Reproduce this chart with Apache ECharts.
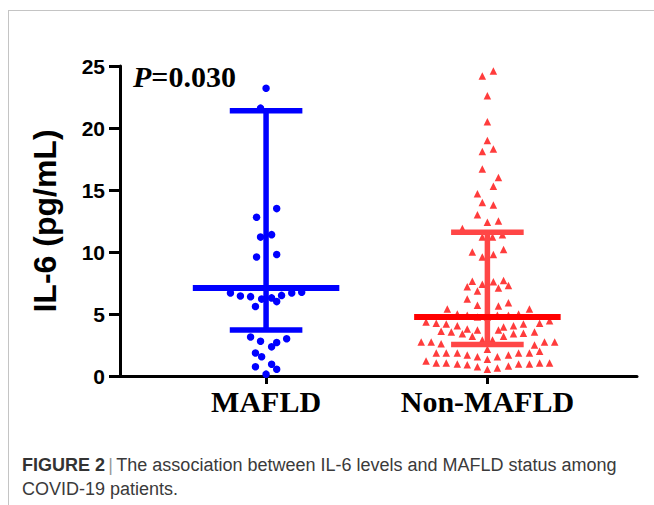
<!DOCTYPE html>
<html>
<head>
<meta charset="utf-8">
<style>
  html, body { margin: 0; padding: 0; background: #ffffff; }
  #chart { width: 654px; height: 505px; }
</style>
<script src="https://cdn.jsdelivr.net/npm/echarts@6.0.0/dist/echarts.min.js"></script>
</head>
<body>
<div id="chart"></div>
<script>
// ---- data ----
const categories = ['MAFLD', 'Non-MAFLD'];
const yTicks = [0, 5, 10, 15, 20, 25];

// MAFLD: [horizontal jitter (axis units), IL-6 value]
const mafldPoints = [
  [0.000, 23.2], [-0.025, 21.6], [0.048, 13.5], [-0.043, 12.8], [-0.025, 11.2], [0.025, 11.4],
  [-0.043, 9.6], [0.048, 9.8], [-0.161, 6.7], [-0.116, 6.45], [-0.070, 6.4], [-0.020, 6.2],
  [0.025, 6.3], [0.048, 6.0], [0.070, 6.5], [0.116, 6.7], [0.161, 6.75], [-0.048, 5.6],
  [-0.070, 3.15], [-0.025, 2.8], [0.048, 2.7], [0.025, 2.35], [0.093, 3.0], [-0.048, 1.85],
  [-0.020, 1.55], [-0.048, 0.75], [0.025, 0.95], [0.048, 0.55], [0.000, 0.15]
];

// Non-MAFLD: [horizontal jitter (axis units), IL-6 value]
const nonMafldPoints = [
  [0.027, 24.6], [-0.023, 24.2], [0, 22.6], [0, 20.5], [0, 19.0], [-0.023, 18.1], [0.027, 18.3],
  [-0.023, 16.7], [0.05, 16.0], [0.027, 15.3], [-0.045, 14.7], [-0.023, 14.0], [0.027, 13.8],
  [-0.045, 13.0], [0, 12.4], [0.05, 12.5], [-0.113, 11.9], [-0.023, 11.2], [0.023, 11.2], [0.068, 11.4],
  [-0.068, 10.0], [-0.023, 9.6], [0.027, 9.8], [0.073, 10.2], [-0.068, 7.65], [-0.091, 7.2],
  [-0.045, 6.85], [-0.023, 7.4], [0.027, 7.6], [0.05, 7.1], [0.073, 7.7], [0.095, 7.3],
  [-0.091, 6.2], [-0.045, 5.7], [0.05, 5.65], [0.095, 5.9], [-0.181, 5.4], [0.19, 5.4],
  [-0.136, 5.0], [-0.091, 4.9], [-0.045, 4.75], [0, 4.75], [0.045, 4.9], [0.095, 4.9], [0.141, 5.0],
  [-0.277, 4.35], [-0.231, 4.25], [-0.186, 4.2], [-0.136, 4.05], [-0.091, 3.8], [-0.045, 3.7],
  [0.05, 3.7], [0.073, 3.95], [0.118, 4.05], [0.163, 4.2], [0.236, 4.25], [0.281, 4.45],
  [-0.209, 3.6], [-0.163, 3.55], [-0.113, 3.4], [-0.068, 3.2], [0.073, 3.2], [0.118, 3.4],
  [0.163, 3.45], [0.213, 3.55],
  [-0.299, 2.75], [-0.254, 2.75], [-0.209, 2.6], [0.213, 2.5], [0.258, 2.75], [0.304, 2.75],
  [-0.023, 2.9], [0.023, 2.9],
  [-0.231, 1.85], [-0.186, 1.85], [-0.136, 1.85], [-0.091, 1.7], [-0.045, 1.55], [0, 1.35],
  [0.045, 1.55], [0.095, 1.7], [0.141, 1.85], [0.19, 1.85], [0.236, 2.0], [0, 2.15],
  [-0.277, 1.2], [-0.231, 1.05], [-0.186, 1.05], [-0.136, 0.97], [-0.091, 0.9], [-0.045, 0.75],
  [0, 0.55], [0.045, 0.65], [0.095, 0.8], [0.141, 0.97], [0.19, 0.97], [0.236, 1.05], [0.281, 1.05]
];

// summary bars: [mean, lower, upper]
const mafldSummary = [7.1, 3.7, 21.4];
const nonMafldSummary = [4.75, 2.55, 11.6];

const pValueText = '=0.030';

// ---- build ----
const groupPos = [1, 2];
function toXY(points, pos) { return points.map(p => [pos + p[0], p[1]]); }

const summaryData = [
  [groupPos[0], mafldSummary[0], mafldSummary[1], mafldSummary[2], 0],
  [groupPos[1], nonMafldSummary[0], nonMafldSummary[1], nonMafldSummary[2], 1]
];
const barColors = [
  { mean: '#0000ff', bar: '#0000ff' },
  { mean: '#ff0000', bar: '#ff4646' }
];
const MEAN_HALF = 0.331, CAP_HALF = 0.164;

const chart = echarts.init(document.getElementById('chart'), null, { renderer: 'svg' });

const option = {
  backgroundColor: '#ffffff',
  animation: false,
  grid: { left: 120, right: 17, top: 66, bottom: 129, outerBoundsMode: 'none', containLabel: false },
  xAxis: {
    type: 'value',
    min: 0.34,
    max: 2.676,
    splitLine: { show: false },
    axisLine: { show: true, onZero: false, lineStyle: { color: '#000', width: 3 } },
    axisTick: { show: true, customValues: groupPos, length: 8, lineStyle: { color: '#000', width: 3 } },
    axisLabel: {
      customValues: groupPos,
      formatter: v => categories[Math.round(v) - 1] || '',
      fontFamily: '"Liberation Serif", "Times New Roman", serif',
      fontWeight: 'bold',
      fontSize: 30,
      color: '#000',
      margin: 10
    }
  },
  yAxis: {
    type: 'value',
    min: yTicks[0],
    max: yTicks[yTicks.length - 1],
    interval: 5,
    splitLine: { show: false },
    axisLine: { show: true, lineStyle: { color: '#000', width: 3 } },
    axisTick: { show: true, length: 11, lineStyle: { color: '#000', width: 3 } },
    axisLabel: {
      fontFamily: '"Liberation Sans", Arial, sans-serif',
      fontWeight: 'bold',
      fontSize: 21,
      color: '#000',
      margin: 15
    },
    name: 'IL-6 (pg/mL)',
    nameLocation: 'middle',
    nameRotate: 90,
    nameGap: 59,
    nameTextStyle: {
      fontFamily: '"Liberation Sans", Arial, sans-serif',
      fontWeight: 'bold',
      fontSize: 32,
      color: '#000'
    }
  },
  series: [
    {
      name: categories[0],
      type: 'scatter',
      symbol: 'circle',
      symbolSize: 7.5,
      itemStyle: { color: '#0000ff', opacity: 1 },
      data: toXY(mafldPoints, groupPos[0]),
      z: 2
    },
    {
      name: categories[1],
      type: 'scatter',
      symbol: 'triangle',
      symbolSize: 7.5,
      itemStyle: { color: '#ff3c3c', opacity: 1 },
      data: toXY(nonMafldPoints, groupPos[1]),
      z: 2
    },
    {
      type: 'custom',
      z: 3,
      data: summaryData,
      renderItem: function (params, api) {
        const x = api.value(0), m = api.value(1), lo = api.value(2), hi = api.value(3);
        const c = barColors[api.value(4)];
        const a1 = api.coord([x - MEAN_HALF, m]), a2 = api.coord([x + MEAN_HALF, m]);
        const v1 = api.coord([x, lo]), v2 = api.coord([x, hi]);
        const l1 = api.coord([x - CAP_HALF, lo]), l2 = api.coord([x + CAP_HALF, lo]);
        const h1 = api.coord([x - CAP_HALF, hi]), h2 = api.coord([x + CAP_HALF, hi]);
        const seg = (p, q, color, w) => ({
          type: 'line',
          shape: { x1: p[0], y1: p[1], x2: q[0], y2: q[1] },
          style: { stroke: color, lineWidth: w }
        });
        return {
          type: 'group',
          children: [
            seg(v1, v2, c.bar, 5.5),
            seg(l1, l2, c.bar, 5.5),
            seg(h1, h2, c.bar, 5.5),
            seg(a1, a2, c.mean, 6)
          ]
        };
      }
    }
  ],
  graphic: [
    { type: 'line', shape: { x1: 8, y1: 10.5, x2: 654, y2: 10.5 }, style: { stroke: '#c4c4c4', lineWidth: 1 } },
    { type: 'line', shape: { x1: 8.5, y1: 10, x2: 8.5, y2: 505 }, style: { stroke: '#c4c4c4', lineWidth: 1 } },
    {
      type: 'text',
      left: 133,
      top: 61,
      style: {
        text: '{p|P}{v|' + pValueText + '}',
        rich: {
          p: { fontFamily: '"Liberation Serif", "Times New Roman", serif', fontStyle: 'italic', fontWeight: 'bold', fontSize: 30, fill: '#000' },
          v: { fontFamily: '"Liberation Serif", "Times New Roman", serif', fontWeight: 'bold', fontSize: 30, fill: '#000' }
        }
      }
    },
    {
      type: 'text',
      left: 22,
      top: 453,
      style: {
        text: '{b|FIGURE 2} {s||} {n|The association between IL-6 levels and MAFLD status among}\n{n|COVID-19 patients.}',
        lineHeight: 24,
        rich: {
          b: { fontFamily: '"Liberation Sans", Arial, sans-serif', fontWeight: 'bold', fontSize: 18, fill: '#333', lineHeight: 24 },
          s: { fontFamily: '"Liberation Sans", Arial, sans-serif', fontSize: 18, fill: '#999', lineHeight: 24 },
          n: { fontFamily: '"Liberation Sans", Arial, sans-serif', fontSize: 18, fill: '#3a3a3a', lineHeight: 24 }
        }
      }
    }
  ]
};

chart.setOption(option);
</script>
</body>
</html>
